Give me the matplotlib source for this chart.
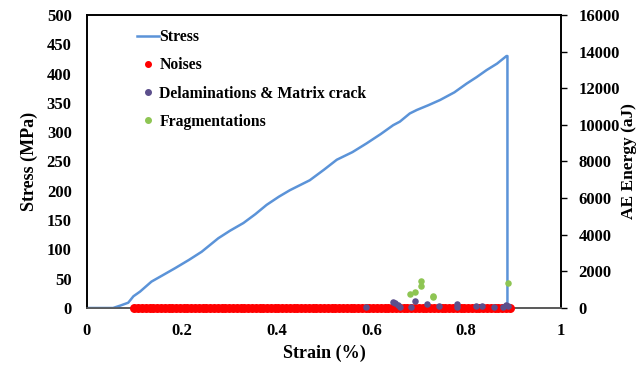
import matplotlib
matplotlib.use("Agg")
import matplotlib.pyplot as plt
from matplotlib.lines import Line2D

# stress-strain curve (strain %, stress MPa)
strain = [0.0, 0.055, 0.070, 0.087, 0.098, 0.112, 0.136, 0.160, 0.186, 0.215, 0.242,
          0.277, 0.302, 0.330, 0.355, 0.379, 0.405, 0.428, 0.470, 0.500, 0.527,
          0.560, 0.590, 0.620, 0.646, 0.660, 0.681, 0.696, 0.720, 0.745, 0.775,
          0.801, 0.822, 0.843, 0.865, 0.885, 0.887, 0.887]
stress = [0, 0, 4, 9, 20, 28, 45, 56, 68, 82, 96,
          119, 132, 145, 160, 176, 190, 201, 218, 236, 253,
          266, 281, 297, 312, 318, 332, 338, 346, 355, 368,
          383, 394, 406, 417, 430, 430, 0]

# AE events: noise band along the strain axis
noise_strain = [0.100, 0.108, 0.116, 0.124, 0.132, 0.140, 0.148, 0.156, 0.164, 0.172,
                0.180, 0.188, 0.196, 0.204, 0.212, 0.220, 0.228, 0.236, 0.244, 0.252,
                0.260, 0.268, 0.276, 0.284, 0.292, 0.300, 0.308, 0.316, 0.324, 0.332,
                0.340, 0.348, 0.356, 0.364, 0.372, 0.380, 0.388, 0.396, 0.404, 0.412,
                0.420, 0.428, 0.436, 0.444, 0.452, 0.460, 0.468, 0.476, 0.484, 0.492,
                0.500, 0.508, 0.516, 0.524, 0.532, 0.540, 0.548, 0.556, 0.564, 0.572,
                0.580, 0.588, 0.596, 0.604, 0.612, 0.620, 0.628, 0.636, 0.644, 0.652,
                0.660, 0.668, 0.676, 0.684, 0.692, 0.700, 0.708, 0.716, 0.724, 0.732,
                0.740, 0.748, 0.756, 0.764, 0.772, 0.780, 0.788, 0.796, 0.804, 0.812,
                0.820, 0.828, 0.836, 0.844, 0.852, 0.860, 0.868, 0.876, 0.884, 0.892]
noise_energy = [10, 0, 5, 10, 0, 5, 10, 0, 5, 10,
                0, 5, 10, 0, 5, 10, 0, 5, 10, 0,
                5, 10, 0, 5, 10, 0, 5, 10, 0, 5,
                10, 0, 5, 10, 0, 5, 10, 0, 5, 10,
                0, 5, 10, 0, 5, 10, 0, 5, 10, 0,
                5, 10, 0, 5, 10, 0, 5, 10, 0, 5,
                10, 0, 5, 10, 0, 5, 10, 0, 5, 10,
                0, 5, 10, 0, 5, 10, 0, 5, 10, 0,
                5, 10, 0, 5, 10, 0, 5, 10, 0, 5,
                10, 0, 5, 10, 0, 5, 10, 0, 5, 10]

delam_strain = [0.589, 0.646, 0.650, 0.657, 0.660, 0.683, 0.692, 0.717, 0.743,
                0.780, 0.781, 0.821, 0.834, 0.859, 0.877, 0.885, 0.889]
delam_energy = [80, 340, 250, 160, 70, 70, 380, 200, 110,
                200, 70, 110, 130, 40, 70, 160, 130]

frag_strain = [0.681, 0.693, 0.705, 0.705, 0.729, 0.730, 0.888]
frag_energy = [750, 860, 1220, 1470, 670, 580, 1350]

plt.rcParams["font.family"] = ["Liberation Serif", "DejaVu Serif"]
plt.rcParams["font.weight"] = "bold"
plt.rcParams["font.size"] = 12

blue = "#5B93D8"
red = "#FF0000"
purple = "#5C4F8C"
green = "#8EC553"

fig = plt.figure(figsize=(6.41, 3.67), dpi=100)
ax = fig.add_axes([0.1357, 0.1608, 0.7395, 0.7983])
ax2 = ax.twinx()

ax.plot(strain, stress, color=blue, lw=1.8, zorder=3)
ax.set_xlim(0, 1)
ax.set_ylim(0, 500)
ax.set_yticks(range(0, 501, 50))
ax.set_xticks([0, 0.2, 0.4, 0.6, 0.8, 1])
ax.set_xticklabels(["0", "0.2", "0.4", "0.6", "0.8", "1"])
ax.tick_params(axis="y", length=0, pad=11, labelsize=12)
ax.tick_params(axis="x", length=0, pad=11, labelsize=12)
ax.set_xlabel("Strain (%)", fontweight="bold", fontsize=13, labelpad=4)
ax.set_ylabel("Stress (MPa)", fontweight="bold", fontsize=13, labelpad=6)

ax2.scatter(noise_strain, noise_energy, s=42, color=red, lw=0, clip_on=False, zorder=3)
ax2.scatter(delam_strain, delam_energy, s=22, color=purple, lw=0, clip_on=False, zorder=4)
ax2.scatter(frag_strain, frag_energy, s=22, color=green, lw=0, clip_on=False, zorder=5)
ax2.set_ylim(0, 16000)
ax2.set_yticks(range(0, 16001, 2000))
ax2.tick_params(axis="y", length=4.5, width=1, direction="out", pad=8, labelsize=12)
ax2.set_ylabel("AE Energy (aJ)", fontweight="bold", fontsize=12.5, labelpad=1)

for a in (ax, ax2):
    for side in ("left", "top", "right"):
        a.spines[side].set_color("black")
        a.spines[side].set_linewidth(1.2)
    a.spines["bottom"].set_color("#595959")
    a.spines["bottom"].set_linewidth(1.2)

handles = [
    Line2D([0], [0], color=blue, lw=1.8, label="Stress"),
    Line2D([0], [0], ls="", marker="o", ms=4, color=red, label="Noises"),
    Line2D([0], [0], ls="", marker="o", ms=4, color=purple, label="Delaminations & Matrix crack"),
    Line2D([0], [0], ls="", marker="o", ms=4, color=green, label="Fragmentations"),
]
leg = ax2.legend(handles=handles, loc="upper left", bbox_to_anchor=(0.075, 1.0),
                 frameon=False, handlelength=1.4, handletextpad=0.05,
                 labelspacing=0.78, prop={"weight": "bold", "size": 11.3})

fig.savefig("out.png", dpi=100)
